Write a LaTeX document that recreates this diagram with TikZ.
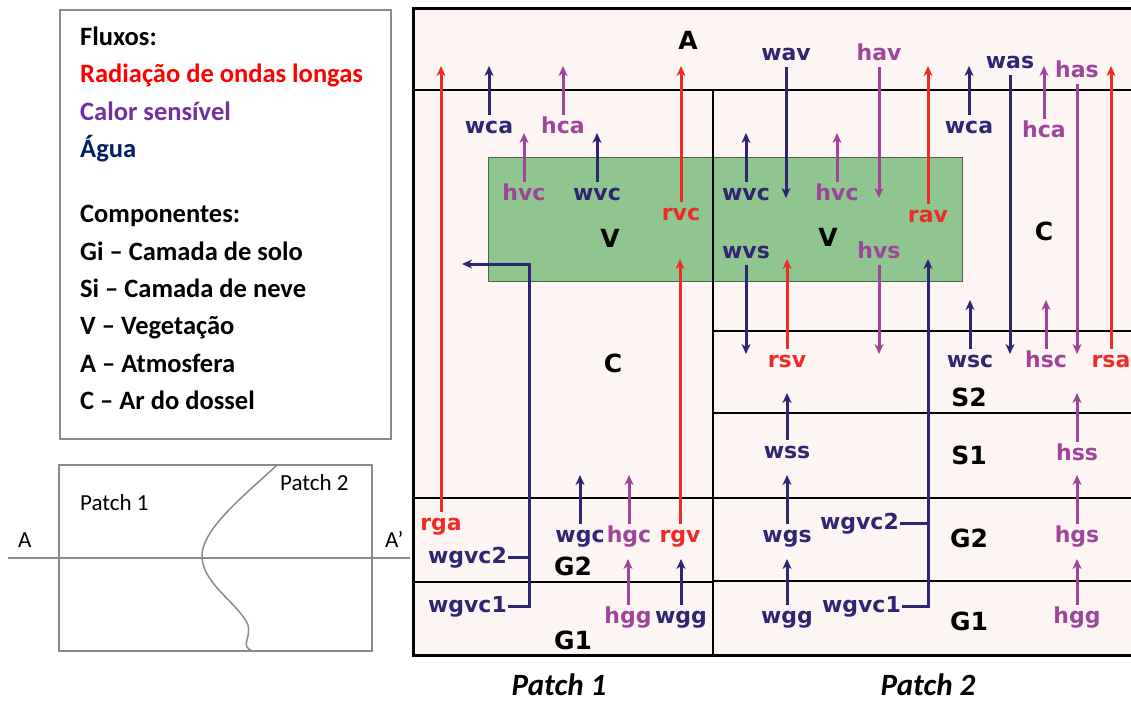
\documentclass[tikz,border=0pt]{standalone}
\usepackage{fontspec}
\setmainfont{Carlito}
\newfontfamily\labfont{DejaVu Sans}
\usetikzlibrary{arrows.meta}
\definecolor{cred}{HTML}{EE2B24}
\definecolor{cnavy}{HTML}{2E2573}
\definecolor{cpurp}{HTML}{9E4599}
\definecolor{lred}{HTML}{FF0000}
\definecolor{lpurp}{HTML}{7030A0}
\definecolor{lblue}{HTML}{002060}
\definecolor{panelbg}{HTML}{FDF5F3}
\definecolor{vegfill}{HTML}{8FC68F}
\definecolor{vegline}{HTML}{4A654A}
\definecolor{boxgray}{HTML}{8A8A8A}
\begin{document}
\begin{tikzpicture}[x=1pt,y=-1pt,
  lab/.style={font=\labfont\bfseries\fontsize{22}{25}\selectfont, text height=12pt, text depth=1pt, inner xsep=1pt, inner ysep=6pt, anchor=base},
  wl/.style={lab,text=cnavy}, hl/.style={lab,text=cpurp}, rl/.style={lab,text=cred},
  comp/.style={font=\labfont\bfseries\fontsize{25}{28}\selectfont, inner sep=0pt},
  flowtip/.style={-{Stealth[length=10pt,width=9pt,inset=3pt]}},
  wf/.style={draw=cnavy,line width=3pt,flowtip},
  hf/.style={draw=cpurp,line width=3pt,flowtip},
  rf/.style={draw=cred,line width=3pt,flowtip},
  wline/.style={draw=cnavy,line width=3pt},
  frameline/.style={draw=black,line width=1.8pt},
  leg/.style={font=\bfseries\fontsize{26.5}{30}\selectfont, anchor=base west, inner sep=0pt},
  inset/.style={font=\fontsize{23}{26}\selectfont, anchor=base west, inner sep=0pt},
  grayline/.style={draw=boxgray,line width=1.5pt},
]
\useasboundingbox (0,0) rectangle (1131,702);

% ---------------- legend ----------------
\draw[grayline] (60,10) rectangle (391,439);
\node[leg] (lgA) at (80,45) {Fluxos:};
\node[leg,text=lred] (lgB) at (80,82) {Radiação de ondas longas};
\node[leg,text=lpurp] (lgC) at (80,120) {Calor sensível};
\node[leg,text=lblue] (lgD) at (80,157) {Água};
\node[leg] (lgE) at (80,222) {Componentes:};
\node[leg] (lgF) at (80,260) {Gi – Camada de solo};
\node[leg] (lgG) at (80,297) {Si – Camada de neve};
\node[leg] (lgH) at (80,334) {V – Vegetação};
\node[leg] (lgI) at (80,372) {A – Atmosfera};
\node[leg] (lgJ) at (80,409) {C – Ar do dossel};

% ---------------- plan view with section A-A' ----------------
\draw[grayline] (59,465) rectangle (372,651);
\draw[grayline] (8,558) -- (410,558);
\draw[grayline] (277,465) .. controls (245,495) and (200,530) .. (202,558)
  .. controls (204,585) and (240,605) .. (248,625)
  .. controls (251,640) and (240,645) .. (252,651);
\node[inset] (inP1) at (80,510) {Patch 1};
\node[inset] (inP2) at (280,490) {Patch 2};
\node[inset] (inA) at (18,547) {A};
\node[inset] (inB) at (385,547) {A’};

% ---------------- section panel ----------------
\fill[panelbg] (413,8) rectangle (1140,655);
\filldraw[fill=vegfill,draw=vegline,line width=1pt] (488,157) rectangle (962,281);
\draw[black,line width=3pt] (413,8) rectangle (1140,655);
\draw[frameline] (413,90) -- (1140,90);
\draw[frameline] (713,90) -- (713,655);
\draw[frameline] (413,498) -- (713,498);
\draw[frameline] (413,582) -- (713,582);
\draw[frameline] (713,331) -- (1140,331);
\draw[frameline] (713,413) -- (1140,413);
\draw[frameline] (713,498) -- (1140,498);
\draw[frameline] (713,581) -- (1140,581);

% reference levels for arrow tips
\coordinate (lvA) at (0,66);
\coordinate (lvC) at (0,133);
\coordinate (lvVd) at (0,198);
\coordinate (lvVu) at (0,259);
\coordinate (lvCs) at (0,300);
\coordinate (lvS) at (0,354);
\coordinate (lvS1) at (0,393);
\coordinate (lvGa) at (0,475);
\coordinate (lvGb) at (0,559);

% component names
\node[comp] (cA) at (688,40) {A};
\node[comp] (cV1) at (610,238) {V};
\node[comp] (cC1) at (613,363) {C};
\node[comp] (cG21) at (573,566) {G2};
\node[comp] (cG11) at (573,640) {G1};
\node[comp] (cV2) at (828,237) {V};
\node[comp] (cC2) at (1044,231) {C};
\node[comp] (cS2) at (969,397) {S2};
\node[comp] (cS1) at (969,455) {S1};
\node[comp] (cG22) at (969,538) {G2};
\node[comp] (cG12) at (969,621) {G1};

% ---- patch 1 fluxes ----
\node[wl] (wca1) at (489,133) {wca};
\node[hl] (hca1) at (563,133) {hca};
\node[hl] (hvc1) at (524,200) {hvc};
\node[wl] (wvc1) at (597,200) {wvc};
\node[rl] (rvc) at (681,220) {rvc};
\node[rl] (rga) at (441,530) {rga};
\node[wl] (wgc) at (580,542) {wgc};
\node[hl] (hgc) at (629,542) {hgc};
\node[rl] (rgv) at (680,542) {rgv};
\node[hl] (hgg1) at (628,623) {hgg};
\node[wl] (wgg1) at (681,623) {wgg};
\node[wl,anchor=base east] (wgvcb1) at (508,563) {wgvc2};
\node[wl,anchor=base east] (wgvca1) at (508,612) {wgvc1};

\draw[wf] (wca1.north) -- (wca1.north |- lvA);
\draw[hf] (hca1.north) -- (hca1.north |- lvA);
\draw[hf] (hvc1.north) -- (hvc1.north |- lvC);
\draw[wf] (wvc1.north) -- (wvc1.north |- lvC);
\draw[rf] (rvc.north) -- (rvc.north |- lvA);
\draw[rf] (rga.north) -- (rga.north |- lvA);
\draw[wf] (wgc.north) -- (wgc.north |- lvGa);
\draw[hf] (hgc.north) -- (hgc.north |- lvGa);
\draw[rf] (rgv.north) -- (rgv.north |- lvVu);
\draw[hf] (hgg1.north) -- (hgg1.north |- lvGb);
\draw[wf] (wgg1.north) -- (wgg1.north |- lvGb);
\coordinate (bend1) at (529,264);
\coordinate (tip1) at (462,264);
\draw[wf] (wgvca1.east) -| (bend1) -- (tip1);
\draw[wline] (wgvcb1.east) -- (wgvcb1.east -| bend1);

% ---- patch 2 fluxes ----
\node[wl] (wav) at (786,60) {wav};
\node[hl] (hav) at (879,60) {hav};
\node[wl] (was) at (1010,68) {was};
\node[hl] (has) at (1077,77) {has};
\node[rl] (rav) at (928,222) {rav};
\node[wl] (wca2) at (969,133) {wca};
\node[hl] (hca2) at (1044,137) {hca};
\node[wl] (wvc2) at (746,200) {wvc};
\node[hl] (hvc2) at (837,200) {hvc};
\node[wl] (wvs) at (746,258) {wvs};
\node[hl] (hvs) at (879,258) {hvs};
\node[rl] (rsv) at (787,367) {rsv};
\node[wl] (wsc) at (970,367) {wsc};
\node[hl] (hsc) at (1046,367) {hsc};
\node[rl] (rsa) at (1111,367) {rsa};
\node[wl] (wss) at (787,458) {wss};
\node[hl] (hss) at (1077,460) {hss};
\node[wl] (wgs) at (787,542) {wgs};
\node[hl] (hgs) at (1077,542) {hgs};
\node[wl] (wgg2) at (787,623) {wgg};
\node[hl] (hgg2) at (1077,623) {hgg};
\node[wl,anchor=base east] (wgvcb2) at (900,529) {wgvc2};
\node[wl,anchor=base east] (wgvca2) at (902,612) {wgvc1};

\draw[wf] (wav.south) -- (wav.south |- lvVd);
\draw[hf] (hav.south) -- (hav.south |- lvVd);
\draw[wf] (was.south) -- (was.south |- lvS);
\draw[hf] (has.south) -- (has.south |- lvS);
\draw[rf] (rav.north) -- (rav.north |- lvA);
\draw[wf] (wca2.north) -- (wca2.north |- lvA);
\draw[hf] (hca2.north) -- (hca2.north |- lvA);
\draw[wf] (wvc2.north) -- (wvc2.north |- lvC);
\draw[hf] (hvc2.north) -- (hvc2.north |- lvC);
\draw[wf] (wvs.south) -- (wvs.south |- lvS);
\draw[hf] (hvs.south) -- (hvs.south |- lvS);
\draw[rf] (rsv.north) -- (rsv.north |- lvVu);
\draw[wf] (wsc.north) -- (wsc.north |- lvCs);
\draw[hf] (hsc.north) -- (hsc.north |- lvCs);
\draw[rf] (rsa.north) -- (rsa.north |- lvA);
\draw[wf] (wss.north) -- (wss.north |- lvS1);
\draw[hf] (hss.north) -- (hss.north |- lvS1);
\draw[wf] (wgs.north) -- (wgs.north |- lvGa);
\draw[hf] (hgs.north) -- (hgs.north |- lvGa);
\draw[wf] (wgg2.north) -- (wgg2.north |- lvGb);
\draw[hf] (hgg2.north) -- (hgg2.north |- lvGb);
\coordinate (bend2) at (928,259);
\draw[wf] (wgvca2.east) -| (bend2);
\draw[wline] (wgvcb2.east) -- (wgvcb2.east -| bend2);

% patch captions
\node[font=\bfseries\itshape\fontsize{31}{34}\selectfont, anchor=base, inner sep=0pt] (cap1) at (559,695) {Patch 1};
\node[font=\bfseries\itshape\fontsize{31}{34}\selectfont, anchor=base, inner sep=0pt] (cap2) at (928,695) {Patch 2};
\end{tikzpicture}
\end{document}
